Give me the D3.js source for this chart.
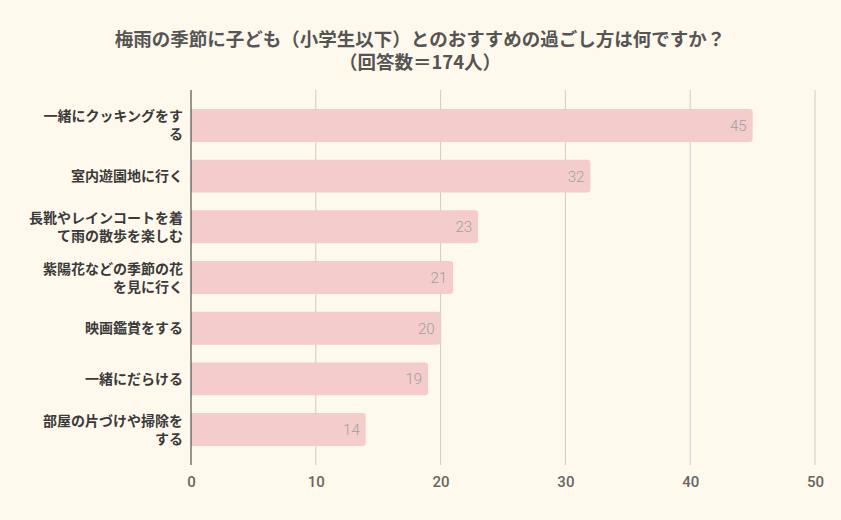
<!DOCTYPE html>
<html><head><meta charset="utf-8">
<script src="https://cdn.jsdelivr.net/npm/d3@7"></script>
<style>body{margin:0;background:#fff8ec;}svg{display:block;font-family:"Noto Sans CJK JP","Noto Sans",sans-serif;}</style>
</head><body>
<script>
const categories = [
  ["一緒にクッキングをす","る"],
  ["室内遊園地に行く"],
  ["長靴やレインコートを着","て雨の散歩を楽しむ"],
  ["紫陽花などの季節の花","を見に行く"],
  ["映画鑑賞をする"],
  ["一緒にだらける"],
  ["部屋の片づけや掃除を","する"]
];
const values = [45, 32, 23, 21, 20, 19, 14];
const xTicks = [0, 10, 20, 30, 40, 50];
const titleLines = ["梅雨の季節に子ども（小学生以下）とのおすすめの過ごし方は何ですか？", "（回答数＝174人）"];

const W = 841, H = 520;
const svg = d3.select("body").append("svg").attr("width", W).attr("height", H);
svg.append("rect").attr("width", W).attr("height", H).attr("fill", "#fff8ec");

const x = d3.scaleLinear().domain([0, 50]).range([191, 815]);
const y = d3.scaleBand().domain(d3.range(categories.length)).range([92, 463]).paddingInner(0.35).paddingOuter(0.335);

// grid
svg.append("g").selectAll("line").data(xTicks.slice(1)).join("line")
  .attr("x1", d => x(d)).attr("x2", d => x(d)).attr("y1", 90).attr("y2", 465)
  .attr("stroke", "#cccccc").attr("stroke-width", 1);

// bars
svg.append("g").selectAll("path").data(values).join("path")
  .attr("d", (d, i) => {
    const x0 = x(0), x1 = x(d), y0 = y(i), h = y.bandwidth(), r = 3;
    return `M${x0},${y0}H${x1 - r}Q${x1},${y0} ${x1},${y0 + r}V${y0 + h - r}Q${x1},${y0 + h} ${x1 - r},${y0 + h}H${x0}Z`;
  })
  .attr("fill", "#f4cccc");

// value labels
svg.append("g").selectAll("text").data(values).join("text")
  .attr("x", d => x(d) - 6).attr("y", (d, i) => y(i) + y.bandwidth() / 2 + 5.5)
  .attr("text-anchor", "end").attr("font-size", 15).attr("fill", "#a0a0a0").attr("font-weight", 300)
  .attr("font-family", "Roboto, 'Noto Sans', sans-serif")
  .text(d => d);

// axis line
svg.append("line").attr("x1", x(0)).attr("x2", x(0)).attr("y1", 90).attr("y2", 465)
  .attr("stroke", "#333").attr("stroke-width", 1);

// x axis
const xAxis = d3.axisBottom(x).tickValues(xTicks).tickSize(0).tickPadding(0);
const gx = svg.append("g").attr("transform", "translate(0,474)").call(xAxis);
gx.select(".domain").remove();
gx.selectAll("text").attr("font-size", 15).attr("fill", "#666").attr("font-weight", 500)
  .attr("font-family", "Roboto, 'Noto Sans', sans-serif").attr("dy", "0.85em");

// category labels
const lab = svg.append("g").selectAll("text").data(categories).join("text")
  .attr("text-anchor", "end").attr("font-size", 14).attr("font-weight", "bold").attr("fill", "#3a3a3a");
lab.each(function(lines, i) {
  const cy = y(i) + y.bandwidth() / 2;
  const lh = 18;
  const start = cy - (lines.length - 1) * lh / 2 + 5;
  d3.select(this).selectAll("tspan").data(lines).join("tspan")
    .attr("x", 183).attr("y", (d, j) => start + j * lh).text(d => d);
});

// title
svg.append("g").selectAll("text").data(titleLines).join("text")
  .attr("x", 420).attr("y", (d, i) => 46 + i * 23).attr("text-anchor", "middle")
  .attr("font-size", 18.5).attr("font-weight", "bold").attr("fill", "#555")
  .text(d => d);
</script>
</body></html>
